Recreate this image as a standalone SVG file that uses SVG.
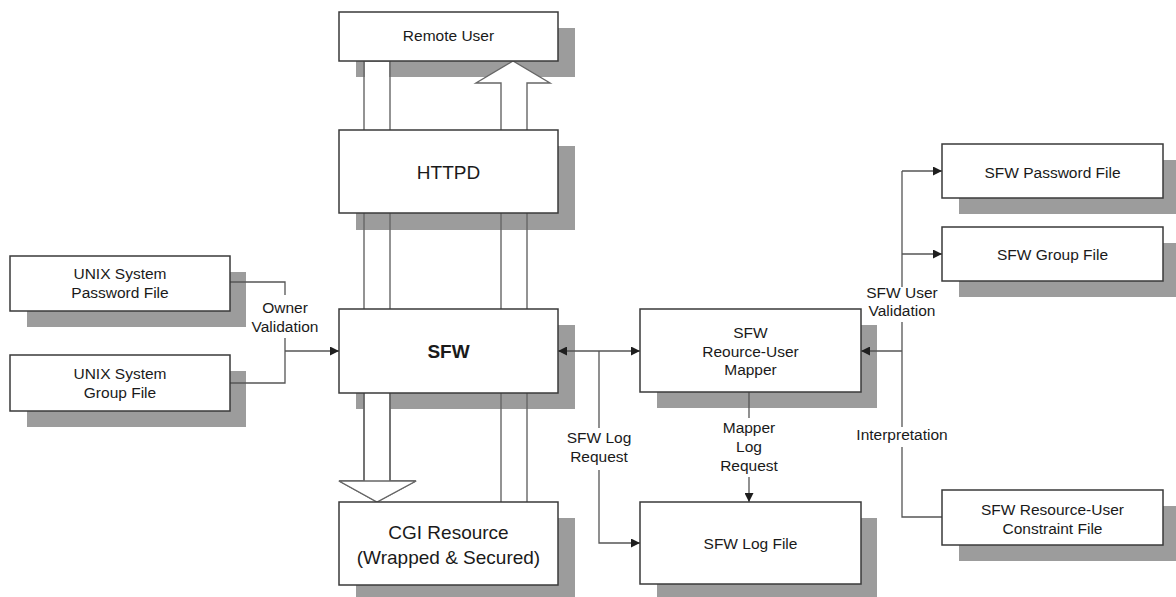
<svg xmlns="http://www.w3.org/2000/svg" width="1176" height="597" viewBox="0 0 1176 597">
<style>
.sh{fill:#9c9c9c}
.bx{fill:#fff;stroke:#3a3a3a;stroke-width:1.5}
.t{font-family:"Liberation Sans",Arial,sans-serif;fill:#1a1a1a;text-anchor:middle}
.s{font-size:15.5px}
.b{font-size:19px}
.c{fill:none;stroke:#555;stroke-width:1.3}
.ha{fill:#fff;stroke:#666;stroke-width:1.4}
.sl{fill:none;stroke:#666;stroke-width:1.4}
</style>
<defs>
<marker id="ar" viewBox="0 0 10 10" refX="10" refY="5" markerWidth="9" markerHeight="9" markerUnits="userSpaceOnUse" orient="auto-start-reverse">
<path d="M0,0 L10,5 L0,10 Z" fill="#1e1e1e"/>
</marker>
</defs>
<rect width="1176" height="597" fill="#fff"/>

<g id="shadows">
<rect class="sh" x="356" y="28" width="219" height="49"/>
<rect class="sh" x="356" y="146" width="219" height="84"/>
<rect class="sh" x="356" y="325" width="219" height="84"/>
<rect class="sh" x="356" y="518" width="219" height="84"/>
<rect class="sh" x="27" y="272" width="219" height="55"/>
<rect class="sh" x="27" y="371" width="219" height="56"/>
<rect class="sh" x="657" y="325" width="220" height="83"/>
<rect class="sh" x="657" y="518" width="220" height="83"/>
<rect class="sh" x="959" y="160" width="221" height="54"/>
<rect class="sh" x="959" y="243" width="221" height="54"/>
<rect class="sh" x="959" y="506" width="221" height="55"/>
</g>

<g id="flow-arrows">
<rect x="365" y="62" width="24" height="67" fill="#fff"/>
<path class="sl" d="M364,61 V130 M390,61 V130"/>
<path class="sl" d="M364,213 V309 M390,213 V309"/>
<path class="ha" d="M364,393 V481 H339 L377,502 L416,481 H390 V393" fill="none"/>
<path d="M339,481 L377,502 L416,481 Z" fill="#fff" stroke="#666" stroke-width="1.4"/>
<path class="sl" d="M364,393 V481 M390,393 V481"/>
<path class="ha" d="M501,130 V83 H476 L513,61 L550,83 H527 V130"/>
<path class="sl" d="M501,213 V309 M527,213 V309"/>
<path class="sl" d="M501,393 V502 M527,393 V502"/>
</g>

<g id="connectors">
<path class="c" d="M230,282 H285 V295 M285,338 V383 H230"/>
<path class="c" d="M285,351 H339" marker-end="url(#ar)"/>
<path class="c" d="M558,351 H640" marker-start="url(#ar)" marker-end="url(#ar)"/>
<path class="c" d="M599,351 V428 M599,470 V543 H640" marker-end="url(#ar)"/>
<path class="c" d="M749,392 V418"/>
<path class="c" d="M749,477 V502" marker-end="url(#ar)"/>
<path class="c" d="M902,351 H861" marker-end="url(#ar)"/>
<path class="c" d="M902,171 V287 M902,322 V427 M902,447 V517 H942"/>
<path class="c" d="M902,171 H942" marker-end="url(#ar)"/>
<path class="c" d="M902,254 H942" marker-end="url(#ar)"/>
</g>

<g id="remote-user">
<rect class="bx" x="339" y="12" width="219" height="49"/>
<text class="t s" x="448.5" y="41">Remote User</text>
</g>
<g id="httpd">
<rect class="bx" x="339" y="130" width="219" height="83"/>
<text class="t b" x="448.5" y="179">HTTPD</text>
</g>
<g id="sfw">
<rect class="bx" x="339" y="309" width="219" height="84"/>
<text class="t b" x="448.5" y="358" font-weight="bold">SFW</text>
</g>
<g id="cgi">
<rect class="bx" x="339" y="502" width="219" height="83"/>
<text class="t b" x="448.5" y="539">CGI Resource</text>
<text class="t b" x="448.5" y="564">(Wrapped &amp; Secured)</text>
</g>
<g id="unix-password">
<rect class="bx" x="10" y="256" width="220" height="55"/>
<text class="t s" x="120" y="279">UNIX System</text>
<text class="t s" x="120" y="298">Password File</text>
</g>
<g id="unix-group">
<rect class="bx" x="10" y="355" width="220" height="56"/>
<text class="t s" x="120" y="378.5">UNIX System</text>
<text class="t s" x="120" y="397.5">Group File</text>
</g>
<g id="mapper">
<rect class="bx" x="640" y="309" width="221" height="83"/>
<text class="t s" x="750.5" y="337.5">SFW</text>
<text class="t s" x="750.5" y="356.5">Reource-User</text>
<text class="t s" x="750.5" y="375">Mapper</text>
</g>
<g id="log-file">
<rect class="bx" x="640" y="502" width="221" height="82"/>
<text class="t s" x="750.5" y="548.5">SFW Log File</text>
</g>
<g id="sfw-password">
<rect class="bx" x="942" y="144" width="221" height="54"/>
<text class="t s" x="1052.5" y="177.5">SFW Password File</text>
</g>
<g id="sfw-group">
<rect class="bx" x="942" y="227" width="221" height="54"/>
<text class="t s" x="1052.5" y="259.5">SFW Group File</text>
</g>
<g id="constraint">
<rect class="bx" x="942" y="490" width="221" height="55"/>
<text class="t s" x="1052.5" y="514.5">SFW Resource-User</text>
<text class="t s" x="1052.5" y="533.5">Constraint File</text>
</g>

<g id="labels">
<text class="t s" x="285" y="312.5">Owner</text>
<text class="t s" x="285" y="331.5">Validation</text>
<text class="t s" x="599" y="443">SFW Log</text>
<text class="t s" x="599" y="461.5">Request</text>
<text class="t s" x="749" y="432.5">Mapper</text>
<text class="t s" x="749" y="452">Log</text>
<text class="t s" x="749" y="470.5">Request</text>
<text class="t s" x="902" y="297.5">SFW User</text>
<text class="t s" x="902" y="315.5">Validation</text>
<text class="t s" x="902" y="439.5">Interpretation</text>
</g>
</svg>
